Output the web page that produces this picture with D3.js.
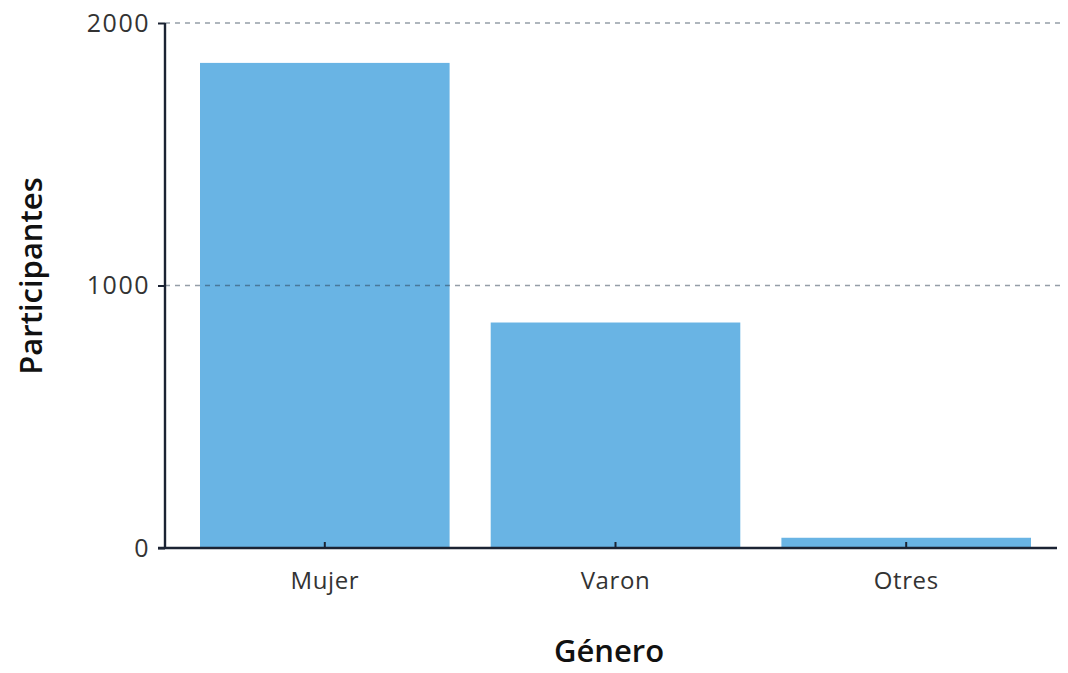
<!DOCTYPE html>
<html>
<head>
<meta charset="utf-8">
<script src="https://cdn.jsdelivr.net/npm/d3@7"></script>
<style>
  html, body { margin: 0; padding: 0; background: #fff; }
  svg { display: block; }
</style>
</head>
<body>
<svg id="chart" width="1068" height="673"></svg>
<script>
// Participants by gender
const categories = ["Mujer", "Varon", "Otres"];
const participants = [1848, 859, 39];
const yTicks = [0, 1000, 2000];

const width = 1068, height = 673;
const margin = { top: 23, right: 8, bottom: 125, left: 165 };

const svg = d3.select("#chart");
const g = svg.append("g").attr("transform", `translate(${margin.left},${margin.top})`);
const innerW = width - margin.left - margin.right;
const innerH = height - margin.top - margin.bottom;

const x = d3.scaleBand()
  .domain(categories)
  .range([35, 866])
  .paddingInner(0.1414)
  .paddingOuter(0);

const y = d3.scaleLinear().domain([0, 2000]).range([innerH, 0]);

const fontFamily = "'Open Sans', 'Noto Sans', sans-serif";
const axisColor = "#1b2333";

// bars
g.selectAll("rect.bar")
  .data(categories)
  .join("rect")
  .attr("class", "bar")
  .attr("x", d => x(d))
  .attr("width", x.bandwidth())
  .attr("y", (d, i) => y(participants[i]))
  .attr("height", (d, i) => innerH - y(participants[i]))
  .attr("fill", "#69b4e4");

// dashed grid lines above the bars
g.selectAll("line.grid")
  .data(yTicks.filter(t => t > 0))
  .join("line")
  .attr("class", "grid")
  .attr("x1", 0)
  .attr("x2", innerW)
  .attr("y1", d => y(d))
  .attr("y2", d => y(d))
  .attr("stroke", "#2c3e50")
  .attr("stroke-opacity", 0.5)
  .attr("stroke-width", 1.3)
  .attr("stroke-dasharray", "5,5");

// y axis
const yAxis = g.append("g")
  .call(d3.axisLeft(y).tickValues(yTicks).tickSize(7).tickPadding(8).tickFormat(d3.format("d")));
yAxis.select(".domain").attr("stroke", axisColor).attr("stroke-width", 2.4).attr("d", `M0,${innerH}V0`);
yAxis.selectAll(".tick line").attr("stroke", axisColor).attr("stroke-width", 2);
yAxis.selectAll(".tick text")
  .attr("font-family", fontFamily)
  .attr("font-size", 25)
  .attr("letter-spacing", 1.5)
  .attr("fill", "#333");

// x axis
const xAxis = g.append("g")
  .attr("transform", `translate(0,${innerH})`)
  .call(d3.axisBottom(x).tickSize(-6).tickPadding(24));
xAxis.select(".domain").attr("stroke", axisColor).attr("stroke-width", 2.4).attr("d", `M-7,0H${innerW - 3}`);
xAxis.selectAll(".tick line").attr("stroke", axisColor).attr("stroke-width", 2);
xAxis.selectAll(".tick text")
  .attr("font-family", fontFamily)
  .attr("font-size", 24)
  .attr("letter-spacing", 0.6)
  .attr("fill", "#333");

// axis titles
svg.append("text")
  .attr("x", 609)
  .attr("y", 662)
  .attr("text-anchor", "middle")
  .attr("font-family", fontFamily)
  .attr("font-weight", 600)
  .attr("font-size", 31)
  .attr("fill", "#111")
  .text("Género");

svg.append("text")
  .attr("transform", "translate(42,276) rotate(-90)")
  .attr("text-anchor", "middle")
  .attr("font-family", fontFamily)
  .attr("font-weight", 600)
  .attr("font-size", 31)
  .attr("fill", "#111")
  .text("Participantes");
</script>
</body>
</html>
